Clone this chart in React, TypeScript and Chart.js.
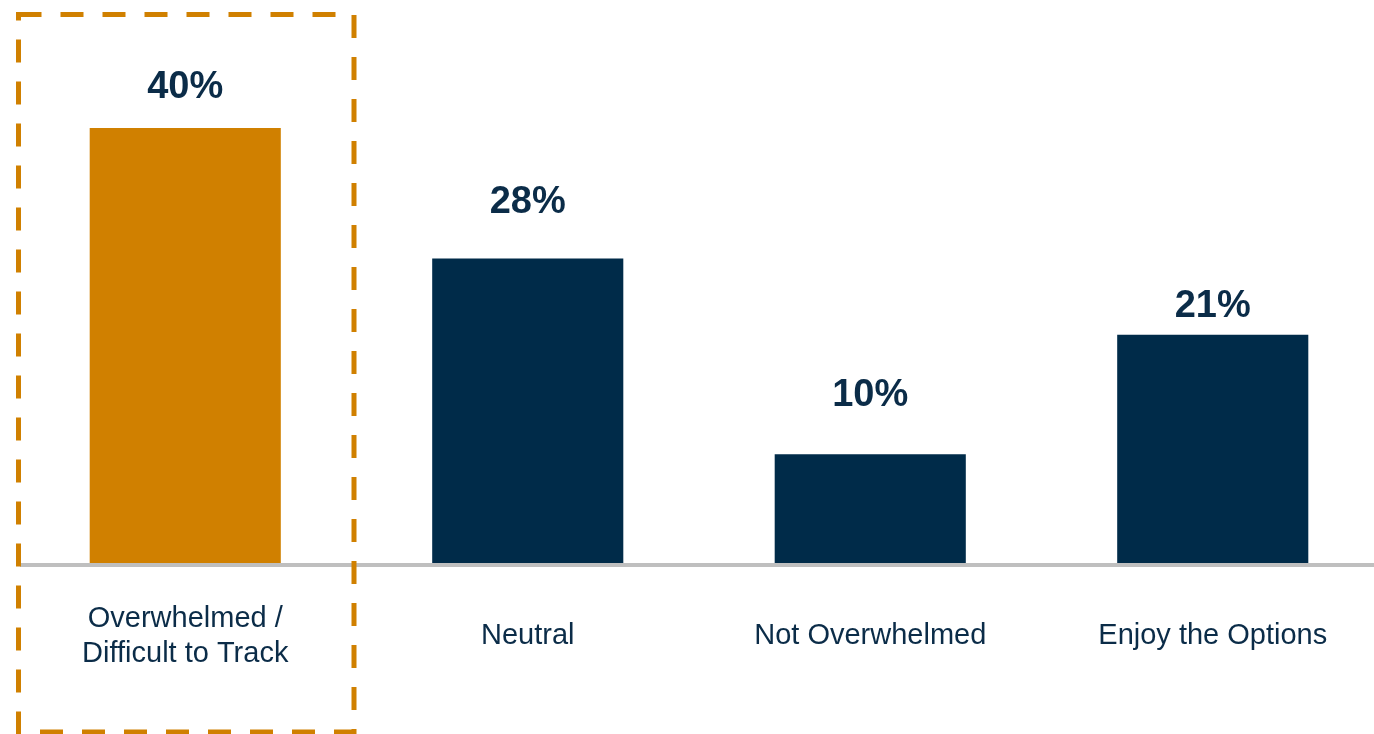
import React, { useEffect, useRef } from "react";
import { Chart, registerables } from "chart.js";

Chart.register(...registerables);

const categories: (string | string[])[] = [
  ["Overwhelmed /", "Difficult to Track"],
  "Neutral",
  "Not Overwhelmed",
  "Enjoy the Options",
];
const values = [40, 28, 10, 21];
const valueLabels = ["40%", "28%", "10%", "21%"];
const highlightIndex = 0;

const ORANGE = "#D08000";
const NAVY = "#002B49";
const TEXT = "#0B2C48";
const GRAY = "#BFBFBF";
const FONT = "'Liberation Sans', Arial, Helvetica, sans-serif";
// vertical gap (px) between each value label's baseline and its bar top
const LABEL_GAPS = [30, 46, 48, 18];

const decorPlugin = {
  id: "decor",
  afterDatasetsDraw(chart: any) {
    const ctx = chart.ctx as CanvasRenderingContext2D;
    const meta = chart.getDatasetMeta(0);
    const xs = chart.scales.x;
    const ys = chart.scales.y;
    ctx.save();

    // baseline
    const y0 = ys.getPixelForValue(0);
    ctx.strokeStyle = GRAY;
    ctx.lineWidth = 4;
    ctx.beginPath();
    ctx.moveTo(20, y0 + 2);
    ctx.lineTo(chart.width, y0 + 2);
    ctx.stroke();

    // value labels
    ctx.font = `bold 38px ${FONT}`;
    ctx.fillStyle = TEXT;
    ctx.textAlign = "center";
    ctx.textBaseline = "alphabetic";
    meta.data.forEach((bar: any, i: number) => {
      ctx.fillText(valueLabels[i], bar.x, bar.y - LABEL_GAPS[i]);
    });

    // dashed highlight box
    const cx = xs.getPixelForValue(highlightIndex) + 1;
    const left = cx - 167.75;
    const right = cx + 167.75;
    const top = 14.5;
    const bottom = 732;
    ctx.strokeStyle = ORANGE;
    ctx.lineWidth = 5;
    ctx.setLineDash([23, 19]);
    ctx.beginPath();
    ctx.moveTo(left, top);
    ctx.lineTo(right, top);
    ctx.lineTo(right, bottom);
    ctx.lineTo(left, bottom);
    ctx.closePath();
    ctx.stroke();
    ctx.restore();
  },
};

export default function App() {
  const ref = useRef<HTMLCanvasElement | null>(null);

  useEffect(() => {
    document.body.style.margin = "0";
    const canvas = ref.current;
    if (!canvas) return;
    const chart = new Chart(canvas, {
      type: "bar",
      data: {
        labels: categories,
        datasets: [
          {
            data: values,
            backgroundColor: values.map((_, i) => (i === highlightIndex ? ORANGE : NAVY)),
            borderWidth: 0,
            barPercentage: 0.558,
            categoryPercentage: 1,
          },
        ],
      },
      options: {
        animation: false,
        responsive: false,
        devicePixelRatio: 1,
        layout: { padding: { left: 14, right: 0, top: 19.25, bottom: 0 } },
        plugins: {
          legend: { display: false },
          tooltip: { enabled: false },
        },
        scales: {
          x: {
            grid: { display: false },
            border: { display: false },
            afterFit: (scale: any) => {
              scale.height = 171;
            },
            ticks: {
              color: TEXT,
              padding: 48,
              maxRotation: 0,
              autoSkip: false,
              crossAlign: "center",
              font: { family: FONT, size: 29, lineHeight: 1.2 },
            },
          },
          y: {
            display: false,
            min: 0,
            max: 50,
          },
        },
      },
      plugins: [decorPlugin],
    } as any);
    return () => chart.destroy();
  }, []);

  return (
    <div style={{ width: 1374, height: 734, overflow: "hidden", position: "relative", background: "#fff" }}>
      <canvas ref={ref} width={1384} height={734} style={{ display: "block" }} />
    </div>
  );
}
